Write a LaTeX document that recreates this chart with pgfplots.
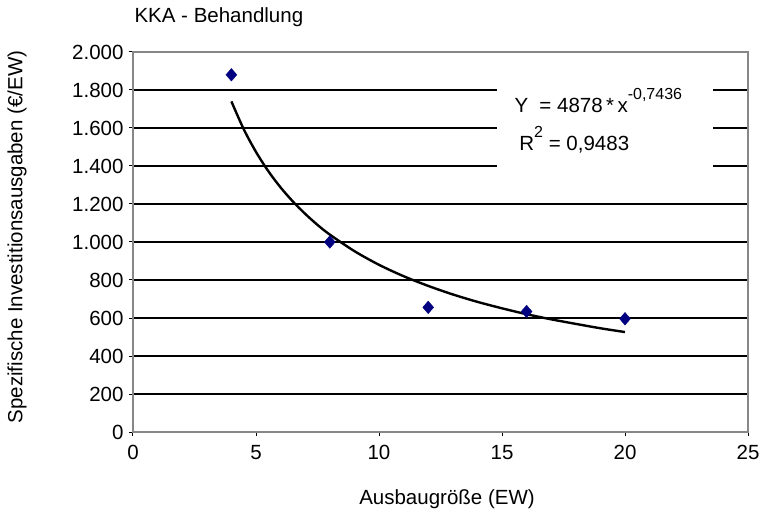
\documentclass[border=0pt]{standalone}
\usepackage{pgfplots}
\pgfplotsset{compat=1.18}
\usepackage{fontspec}
\setmainfont{Liberation Sans}
\definecolor{navyblue}{RGB}{0,0,128}
\definecolor{bordergray}{RGB}{135,135,135}
\begin{document}
\begin{tikzpicture}[font=\fontsize{20.5}{24}\selectfont]
\useasboundingbox (-133pt,-82pt) rectangle (637pt,432pt);
\begin{axis}[at={(0pt,0pt)}, anchor=south west, scale only axis,
  width=615pt, height=380pt,
  xmin=0, xmax=25, ymin=0, ymax=2000,
  xtick={0,5,...,25}, ytick={0,200,...,2000},
  axis line style={draw=bordergray, line width=1.5pt},
  ymajorgrids, grid style={black, line width=1.5pt},
  tick align=outside, major tick length=4pt,
  tick style={black, line width=1pt},
  tick pos=left,
  /pgf/number format/1000 sep={.},
  /pgf/number format/assume math mode=true,
  xticklabel style={yshift=-6pt},
  yticklabel style={xshift=-2pt},
  clip=false,
]
\fill[white] (axis cs:14.8,1326) rectangle (axis cs:23.58,1905);
\node[anchor=base west, inner sep=0pt] at (axis cs:15.5,1684) {Y\hspace{0.55em}= 4878\,*\,x\raisebox{0.6em}{\fontsize{16}{18}\selectfont -0,7436}};
\node[anchor=base west, inner sep=0pt] at (axis cs:15.7,1484) {R\raisebox{0.6em}{\fontsize{16}{18}\selectfont 2} = 0,9483};
\addplot[black, line width=2.4pt, smooth] coordinates {
 (4,1740) (4.5,1594) (5,1474) (5.5,1373) (6,1287) (6.5,1213) (7,1148) (7.5,1090)
 (8,1039) (9,952) (10,880) (11,820) (12,769) (13,724) (14,685) (15,651)
 (16,620) (17,593) (18,569) (19,546) (20,526)};
\addplot[only marks, mark=diamond*, mark size=6.3pt, mark options={fill=navyblue, draw=navyblue, xscale=1.15}] coordinates {
 (4,1880) (8,1000) (12,656) (16,634) (20,596)};
\draw[bordergray, line width=1.5pt] (rel axis cs:0,0) rectangle (rel axis cs:1,1);
\end{axis}
\node[anchor=west] at (-2pt,415pt) {KKA - Behandlung};
\node at (314pt,-67pt) {Ausbaugröße (EW)};
\node[rotate=90] at (-116pt,195pt) {Spezifische Investitionsausgaben (€/EW)};
\end{tikzpicture}
\end{document}
